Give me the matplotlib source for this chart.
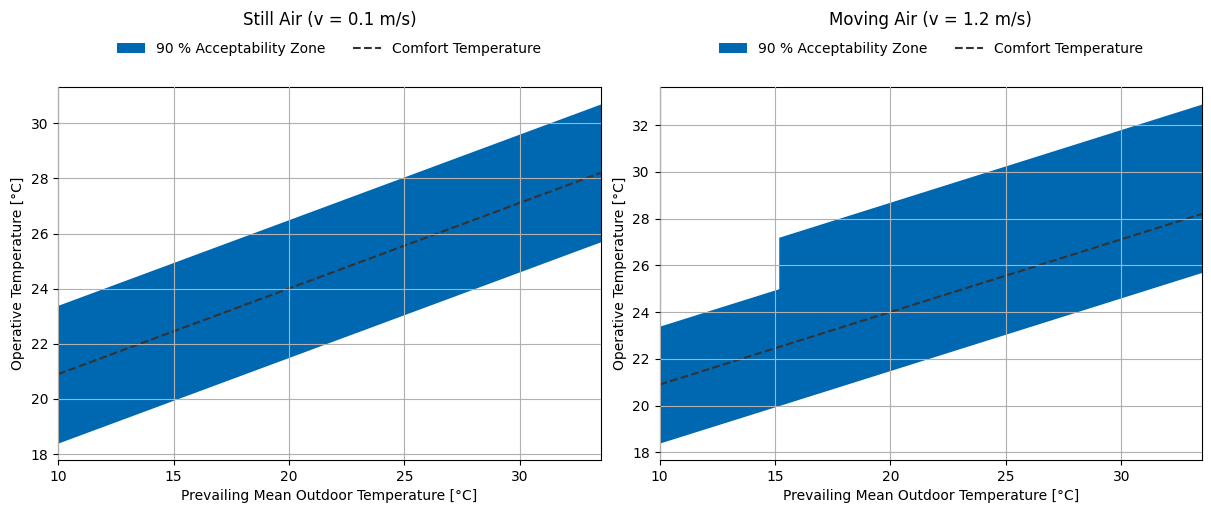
import numpy as np
import matplotlib
matplotlib.use("Agg")
import matplotlib.pyplot as plt

# values (ASHRAE 55 adaptive model)
x_out = [10, 33.5]
comfort = [20.9, 28.2]
lower = [18.4, 25.7]
upper = [23.4, 30.7]

# moving air: upper limit jumps where operative temp passes 25 C
x_move = [10, 15.16, 15.16, 33.5]
lower_move = [18.4, 20.0, 20.0, 25.7]
upper_move = [23.4, 25.0, 27.2, 32.9]

titles = ["Still Air (v = 0.1 m/s)", "Moving Air (v = 1.2 m/s)"]
zone_color = "#0067b1"

fig, axes = plt.subplots(1, 2, figsize=(12.11, 5.12), dpi=100)
fig.subplots_adjust(left=0.048, right=0.9926, top=0.830, bottom=0.1016, wspace=0.109)

panels = [(x_out, lower, upper), (x_move, lower_move, upper_move)]
for ax, title, (xs, lo, hi) in zip(axes, titles, panels):
    ax.fill_between(xs, lo, hi, color=zone_color, linewidth=0,
                    label="90 % Acceptability Zone")
    ax.plot(x_out, comfort, "--", color="#333333", linewidth=1.5,
            label="Comfort Temperature")
    ax.set_xlim(10, 33.5)
    ax.grid(True, color="#b0b0b0", zorder=5)
    ax.set_axisbelow(False)
    ax.set_xlabel("Prevailing Mean Outdoor Temperature [°C]")
    ax.set_ylabel("Operative Temperature [°C]")
    ax.set_title(title, fontsize=12, pad=45)
    ax.legend(loc="lower center", bbox_to_anchor=(0.5, 1.051), ncol=2,
              frameon=False, columnspacing=2.0)

plt.savefig("out.png", dpi=100)
